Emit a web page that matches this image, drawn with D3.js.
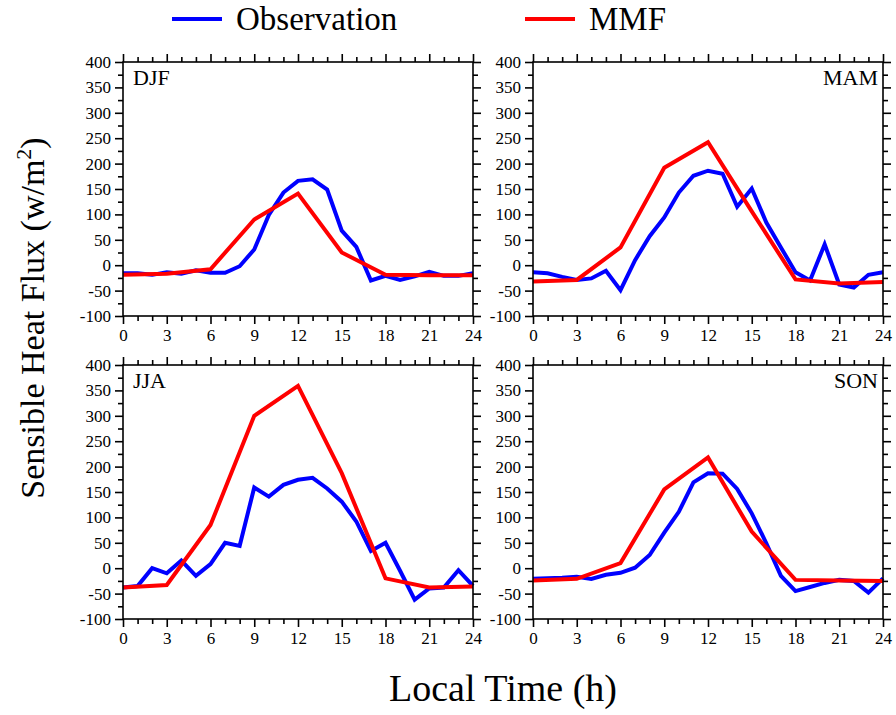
<!DOCTYPE html>
<html>
<head>
<meta charset="utf-8">
<script src="https://cdn.jsdelivr.net/npm/d3@7/dist/d3.min.js"></script>
<style>
  html, body { margin: 0; padding: 0; background: #fff; }
  svg { display: block; }
  text { font-family: "Liberation Serif", "Times New Roman", serif; fill: #000; }
</style>
</head>
<body>
<svg id="chart" width="896" height="715"></svg>
<script>
// Diurnal cycle of sensible heat flux, by season
const seasons = ["DJF", "MAM", "JJA", "SON"];

const obsHours = d3.range(0, 25);          // hourly observations
const mmfHours = [0, 3, 6, 9, 12, 15, 18, 21, 24]; // 3-hourly model output

const obsDJF = [-16, -16, -19, -14, -17, -10, -15, -15, -2, 31, 99, 143, 166, 169, 149, 68, 36, -30, -21, -29, -22, -13, -21, -21, -16];
const obsMAM = [-14, -16, -23, -29, -26, -11, -49, 10, 57, 94, 143, 176, 186, 180, 115, 151, 84, 35, -14, -30, 41, -38, -44, -19, -14];
const obsJJA = [-38, -35, 0, -10, 15, -15, 8, 50, 44, 159, 141, 164, 174, 178, 157, 131, 92, 34, 50, -5, -62, -40, -38, -4, -35];
const obsSON = [-21, -20, -19, -17, -21, -13, -9, 1, 26, 70, 111, 169, 187, 186, 156, 108, 49, -15, -45, -37, -29, -23, -25, -48, -20];

const mmfDJF = [-19, -17, -8, 90, 141, 25, -19, -20, -20];
const mmfMAM = [-32, -29, 35, 192, 242, 106, -28, -36, -33];
const mmfJJA = [-38, -33, 85, 300, 359, 187, -20, -38, -36];
const mmfSON = [-24, -21, 10, 155, 218, 72, -23, -24, -25];

const obsSeries = [obsDJF, obsMAM, obsJJA, obsSON];
const mmfSeries = [mmfDJF, mmfMAM, mmfJJA, mmfSON];

const xMajor = [0, 3, 6, 9, 12, 15, 18, 21, 24];
const xMinor = d3.range(0, 25).filter(h => h % 3 !== 0);
const yMajor = [400, 350, 300, 250, 200, 150, 100, 50, 0, -50, -100];
const yMinor = d3.range(-75, 400, 50);

const seriesNames = ["Observation", "MMF"];
const seriesColors = ["#0000ff", "#ff0000"];

const svg = d3.select("#chart");

// panel frames: [left, top, right, bottom]
const frames = [
  [123, 62, 473, 316],
  [533, 62, 883, 316],
  [123, 365, 473, 619],
  [533, 365, 883, 619]
];
const labelRight = [false, true, false, true];

const MAJOR = 8, MINOR = 5;
const serif = '"Liberation Serif", "Times New Roman", serif';

frames.forEach((f, i) => {
  const [x0, y0, x1, y1] = f;
  const x = d3.scaleLinear().domain([0, 24]).range([x0, x1]);
  const y = d3.scaleLinear().domain([-100, 400]).range([y1, y0]);
  const g = svg.append("g");

  const fmt = d => String(d);

  // minor ticks on all four sides
  const minorAxes = [
    [d3.axisLeft(y).tickValues(yMinor), `translate(${x0},0)`],
    [d3.axisRight(y).tickValues(yMinor), `translate(${x1},0)`],
    [d3.axisTop(x).tickValues(xMinor), `translate(0,${y0})`],
    [d3.axisBottom(x).tickValues(xMinor), `translate(0,${y1})`]
  ];
  minorAxes.forEach(([ax, tr]) => {
    g.append("g").attr("transform", tr)
      .call(ax.tickSize(MINOR).tickFormat(""))
      .call(s => s.select(".domain").remove());
  });

  // major ticks; labels on left and bottom only
  g.append("g").attr("transform", `translate(${x0},0)`)
    .call(d3.axisLeft(y).tickValues(yMajor).tickSize(MAJOR).tickPadding(4).tickFormat(fmt))
    .call(s => s.select(".domain").remove());
  g.append("g").attr("transform", `translate(${x1},0)`)
    .call(d3.axisRight(y).tickValues(yMajor).tickSize(MAJOR).tickFormat(""))
    .call(s => s.select(".domain").remove());
  g.append("g").attr("transform", `translate(0,${y0})`)
    .call(d3.axisTop(x).tickValues(xMajor).tickSize(MAJOR).tickFormat(""))
    .call(s => s.select(".domain").remove());
  g.append("g").attr("transform", `translate(0,${y1})`)
    .call(d3.axisBottom(x).tickValues(xMajor).tickSize(MAJOR).tickPadding(5).tickFormat(fmt))
    .call(s => s.select(".domain").remove());

  g.selectAll("g").attr("font-family", serif);
  g.selectAll(".tick line").attr("stroke", "#000").attr("stroke-width", 1.6);
  g.selectAll(".tick text")
    .style("font-family", serif)
    .style("font-size", "17px")
    .attr("fill", "#000");

  // series lines (observation first, model on top)
  const line = d3.line().x(d => x(d[0])).y(d => y(d[1]));
  g.append("path")
    .datum(obsHours.map((h, k) => [h, obsSeries[i][k]]))
    .attr("d", line)
    .attr("fill", "none")
    .attr("stroke", seriesColors[0])
    .attr("stroke-width", 4)
    .attr("stroke-linejoin", "miter");
  g.append("path")
    .datum(mmfHours.map((h, k) => [h, mmfSeries[i][k]]))
    .attr("d", line)
    .attr("fill", "none")
    .attr("stroke", seriesColors[1])
    .attr("stroke-width", 4)
    .attr("stroke-linejoin", "miter");

  // frame
  g.append("rect")
    .attr("x", x0).attr("y", y0)
    .attr("width", x1 - x0).attr("height", y1 - y0)
    .attr("fill", "none").attr("stroke", "#000").attr("stroke-width", 1.6);

  // season label
  g.append("text")
    .attr("x", labelRight[i] ? x1 - 5 : x0 + 10)
    .attr("y", y0 + 23)
    .attr("text-anchor", labelRight[i] ? "end" : "start")
    .style("font-size", "22px")
    .text(seasons[i]);
});

// legend
const legendX = [172, 525];
seriesNames.forEach((name, k) => {
  svg.append("line")
    .attr("x1", legendX[k]).attr("x2", legendX[k] + 50)
    .attr("y1", 19).attr("y2", 19)
    .attr("stroke", seriesColors[k]).attr("stroke-width", 4);
  svg.append("text")
    .attr("x", legendX[k] + 64).attr("y", 30)
    .style("font-size", "33px")
    .text(name);
});

// axis titles
svg.append("text")
  .attr("x", 503).attr("y", 701)
  .attr("text-anchor", "middle")
  .style("font-size", "38px")
  .text("Local Time (h)");

const yTitle = svg.append("text")
  .attr("transform", "translate(44,318) rotate(-90)")
  .attr("text-anchor", "middle")
  .style("font-size", "34px");
yTitle.append("tspan").text("Sensible Heat Flux (w/m");
yTitle.append("tspan").attr("dy", -13).style("font-size", "22px").text("2");
yTitle.append("tspan").attr("dy", 13).text(")");
</script>
</body>
</html>
